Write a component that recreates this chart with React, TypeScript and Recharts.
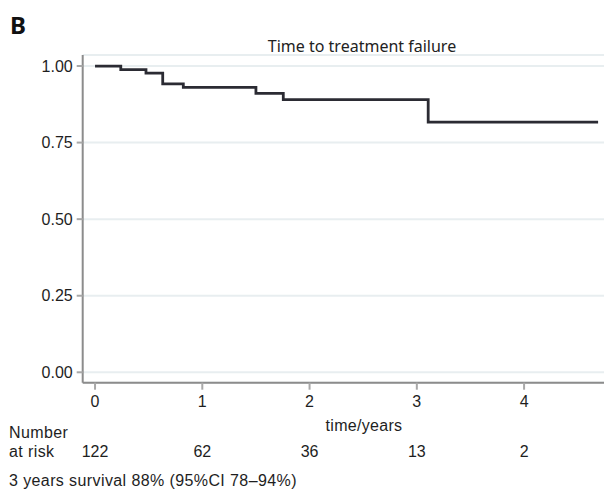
import { ComposedChart, Line, XAxis, YAxis, CartesianGrid } from 'recharts';

// Kaplan-Meier step points
const times = [0, 0.24, 0.475, 0.631, 0.823, 1.5, 1.755, 3.106, 4.69];
const survival = [1, 0.988, 0.977, 0.942, 0.93, 0.911, 0.89, 0.817, 0.817];

const yearTicks = [0, 1, 2, 3, 4];
const atRisk = [122, 62, 36, 13, 2];
const survivalTicks = [0, 0.25, 0.5, 0.75, 1];

const data = times.map((t, i) => ({ t, s: survival[i] }));

const tickFont = '"Liberation Sans", Arial, sans-serif';
const titleFont = '"Noto Sans", sans-serif';
const axisGrey = '#8c8c8c';

const YearTick = (props: any) => {
  const { x, y, payload } = props;
  const idx = yearTicks.indexOf(payload.value);
  return (
    <g>
      <text x={x} y={y} dy={11.4} textAnchor="middle" fontFamily={tickFont} fontSize={16} fill="#1e1e1e">
        {payload.value}
      </text>
      <text x={x} y={y} dy={61.3} textAnchor="middle" fontFamily={tickFont} fontSize={16} fill="#1e1e1e">
        {idx >= 0 ? atRisk[idx] : ''}
      </text>
    </g>
  );
};

export default function App() {
  return (
    <div style={{ position: 'absolute', left: 0, top: 0, width: 604, height: 497, background: '#fff' }}>
      <ComposedChart width={604} height={497} data={data} margin={{ top: 55, right: 0, left: 0, bottom: 0 }}>
        <CartesianGrid vertical={false} stroke="#e8eef0" strokeWidth={2} />
        <XAxis
          dataKey="t"
          type="number"
          domain={[-0.115, 4.745]}
          ticks={yearTicks}
          allowDataOverflow
          height={114.3}
          tickSize={7}
          tickMargin={6}
          axisLine={{ stroke: axisGrey, strokeWidth: 2 }}
          tickLine={{ stroke: '#a8a8a8', strokeWidth: 2 }}
          tick={<YearTick />}
        />
        <YAxis
          type="number"
          domain={[-0.034, 1.036]}
          ticks={survivalTicks}
          allowDataOverflow
          width={82.7}
          tickSize={6}
          tickMargin={4}
          tickFormatter={(v: number) => v.toFixed(2)}
          axisLine={{ stroke: axisGrey, strokeWidth: 2 }}
          tickLine={{ stroke: '#a8a8a8', strokeWidth: 2 }}
          tick={{ fontFamily: tickFont, fontSize: 16, fill: '#1e1e1e' }}
        />
        <Line
          dataKey="s"
          type="stepAfter"
          stroke="#2b2b33"
          strokeWidth={2.8}
          dot={false}
          isAnimationActive={false}
        />
      </ComposedChart>
      <svg width={604} height={497} style={{ position: 'absolute', left: 0, top: 0, pointerEvents: 'none' }}>
        <text x={10} y={34} fontFamily={titleFont} fontWeight={700} fontSize={24} fill="#111">B</text>
        <text x={362} y={51.5} textAnchor="middle" fontFamily={titleFont} fontSize={16} fill="#222">
          Time to treatment failure
        </text>
        <text x={364} y={431} textAnchor="middle" fontFamily={tickFont} fontSize={16} letterSpacing={0.3} fill="#1e1e1e">
          time/years
        </text>
        <text x={9} y={438} fontFamily={tickFont} fontSize={16} letterSpacing={0.4} fill="#1e1e1e">Number</text>
        <text x={9} y={457} fontFamily={tickFont} fontSize={16} letterSpacing={0.4} fill="#1e1e1e">at risk</text>
        <text x={9} y={486} fontFamily={tickFont} fontSize={16} letterSpacing={0.4} fill="#1e1e1e">
          3 years survival 88% (95%CI 78–94%)
        </text>
      </svg>
    </div>
  );
}
